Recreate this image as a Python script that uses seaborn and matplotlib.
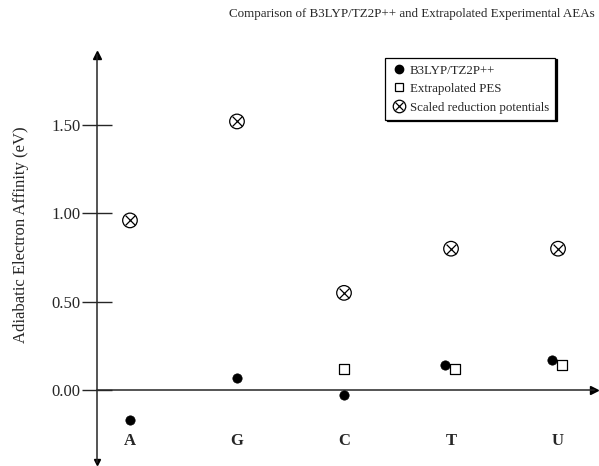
import numpy as np
import pandas as pd
import matplotlib
matplotlib.use("Agg")
import matplotlib.pyplot as plt
import matplotlib.transforms as mtransforms
import seaborn as sns
from matplotlib.lines import Line2D
from matplotlib.legend_handler import HandlerTuple

# data
bases = ["A", "G", "C", "T", "U"]
b3lyp = [-0.17, 0.07, -0.03, 0.14, 0.17]
pes_bases = ["C", "T", "U"]
pes = [0.12, 0.12, 0.14]
scaled = [0.96, 1.52, 0.55, 0.80, 0.80]
yticks = [0.0, 0.5, 1.0, 1.5]
ytick_labels = ["0.00", "0.50", "1.00", "1.50"]
title = "Comparison of B3LYP/TZ2P++ and Extrapolated Experimental AEAs"
ylabel = "Adiabatic Electron Affinity (eV)"
legend_labels = ["B3LYP/TZ2P++", "Extrapolated PES", "Scaled reduction potentials"]

sns.set_style("white")
plt.rcParams["font.family"] = ["Liberation Serif", "DejaVu Serif"]

# long-form tables
df_b = pd.DataFrame({"base": bases, "aea": b3lyp})
df_p = pd.DataFrame({"base": pes_bases, "aea": pes})
df_s = pd.DataFrame({"base": bases, "aea": scaled})
for d in (df_b, df_p, df_s):
    d["x"] = d["base"].map({b: i for i, b in enumerate(bases)}).astype(float)

# dodge the overlapping B3LYP / PES pairs a little
close = df_b.merge(df_p, on="base", suffixes=("_b", "_p"))
close = close.loc[(close["aea_b"] - close["aea_p"]).abs() < 0.1, "base"]
df_b.loc[df_b["base"].isin(close), "x"] -= 0.06
df_p.loc[df_p["base"].isin(close), "x"] += 0.04

fig = plt.figure(figsize=(5.99, 4.66), dpi=100)
ax = fig.add_axes([97 / 599, 4 / 466, 497 / 599, 407 / 466])

sns.scatterplot(data=df_b, x="x", y="aea", ax=ax, color="black", marker="o",
                s=45, edgecolor="black", linewidth=0.5, zorder=3)
sns.scatterplot(data=df_p, x="x", y="aea", ax=ax, marker="s", s=42,
                facecolor="white", edgecolor="black", linewidth=0.9, zorder=3)
# circle with a cross inside
sns.scatterplot(data=df_s, x="x", y="aea", ax=ax, marker="o", s=110,
                facecolor="none", edgecolor="black", linewidth=0.9, zorder=3)
sns.scatterplot(data=df_s, x="x", y="aea", ax=ax, marker="x", s=50,
                color="black", linewidth=0.9, zorder=3)

ax.set_xlim(-0.308, 4.336)
ax.set_ylim(-0.407, 1.896)

# axes drawn like the hand-made figure
for side in ["top", "right"]:
    ax.spines[side].set_visible(False)
ax.spines["bottom"].set_position(("data", 0))
ax.spines["left"].set_linewidth(1.1)
ax.spines["bottom"].set_linewidth(1.1)
ax.plot(0, 1, marker="^", ms=6, color="black", transform=ax.transAxes, clip_on=False)
ax.plot(0, 0, marker="v", ms=5, color="black", transform=ax.transAxes, clip_on=False)
ax.plot(1, 0.0, marker=">", ms=6, color="black",
        transform=mtransforms.blended_transform_factory(ax.transAxes, ax.transData),
        clip_on=False)

ax.set_yticks(yticks)
ax.set_yticklabels(ytick_labels, fontsize=12)
ax.tick_params(axis="y", direction="inout", length=21.6, width=1.0, pad=1, left=True)
ax.set_xticks(range(len(bases)))
ax.set_xticklabels(bases, fontsize=12, fontweight="bold")
ax.tick_params(axis="x", length=0, pad=31)

ax.set_xlabel("")
ax.set_ylabel(ylabel, fontsize=12)
ax.yaxis.set_label_coords(-68 / 497, (462 - 235) / 407)

fig.text(595 / 599, 1 - 14 / 466, title, fontsize=9.4, ha="right", va="center")

handles = [
    Line2D([], [], ls="", marker="o", color="black", ms=6),
    Line2D([], [], ls="", marker="s", mfc="white", mec="black", ms=6, mew=0.9),
    (Line2D([], [], ls="", marker="o", mfc="none", mec="black", ms=9, mew=0.9),
     Line2D([], [], ls="", marker="x", color="black", ms=6.3, mew=0.9)),
]
leg = ax.legend(handles, legend_labels, loc="upper left",
                bbox_to_anchor=(288 / 497, (462 - 58) / 407),
                handler_map={tuple: HandlerTuple(ndivide=1, pad=0)},
                fontsize=9.3, frameon=True, fancybox=False,
                shadow={"color": "black", "alpha": 1, "ox": 1.5, "oy": -0.8},
                handletextpad=0.2, handlelength=1.2, borderpad=0.5,
                labelspacing=0.5, borderaxespad=0)
leg.get_frame().set_edgecolor("black")
leg.get_frame().set_linewidth(0.9)

fig.savefig("out.png", dpi=100)
